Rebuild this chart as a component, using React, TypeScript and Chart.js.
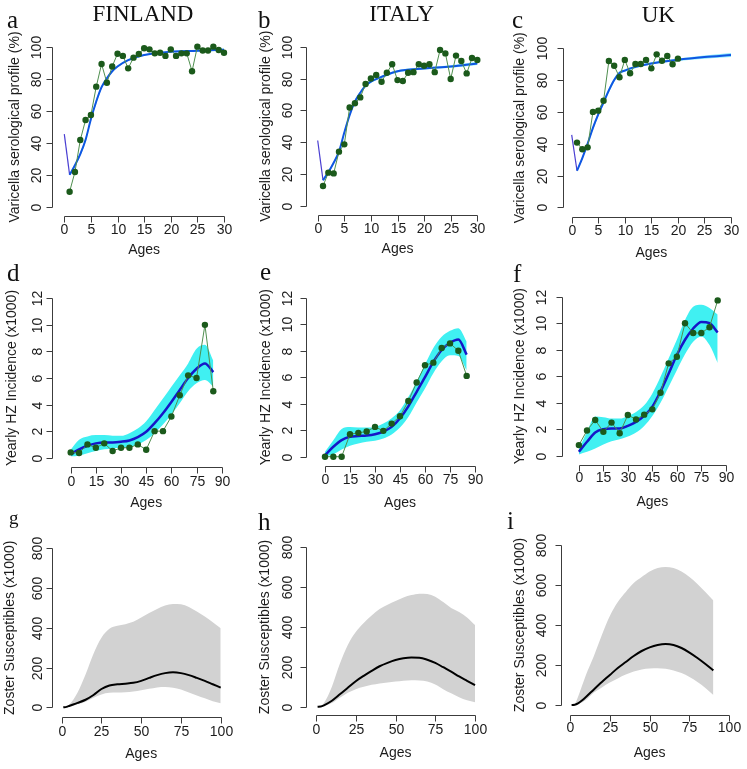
import React, { useEffect, useRef } from 'react';
import { Chart, registerables } from 'chart.js';
Chart.register(...registerables);

const W = 747;
const H = 769;
const SANS = '"Liberation Sans", Arial, Helvetica, sans-serif';
const SERIF = '"Liberation Serif", "Times New Roman", serif';

// ---------- Row 1: varicella serological profile (%) ----------
const seroAges = [1, 2, 3, 4, 5, 6, 7, 8, 9, 10, 11, 12, 13, 14, 15, 16, 17, 18, 19, 20, 21, 22, 23, 24, 25, 26, 27, 28, 29, 30];
const finSero = [9.4, 21.8, 41.8, 54.4, 57.5, 75.3, 89.5, 77.8, 88, 96, 94.6, 86.8, 93.5, 95.8, 99.4, 98.7, 96.2, 96.6, 94.6, 98.7, 94.6, 96.2, 96.2, 85, 100.4, 98, 98, 100.4, 98.3, 96.6];
const itaSero = [12.4, 20.8, 20.3, 34, 38.6, 61.8, 64.4, 68.1, 76.5, 80, 82.2, 78, 83.6, 89, 79, 78.4, 83.6, 84, 89, 88, 89, 84, 97.9, 95.8, 79.7, 94.4, 91, 83.2, 92.9, 91.6];
const ukSeroAges = [1, 2, 3, 4, 5, 6, 7, 8, 9, 10, 11, 12, 13, 14, 15, 16, 17, 18, 19, 20];
const ukSero = [40.7, 36.5, 37.7, 60, 60.8, 67, 92, 89, 81.8, 92.7, 84.3, 90.1, 90.1, 92.7, 87.4, 96.2, 92.2, 95.2, 90, 93.5];

const seroFitAges = [0, 1, 2, 3, 4, 5, 6, 7, 8, 9, 10, 12, 15, 20, 25, 30];
const finSeroFit = [45.5, 20, 26, 33, 42, 55, 66, 75, 80.5, 85, 88, 92, 95.2, 97.2, 97.8, 98.5];
const itaSeroFit = [41, 16, 21, 27, 34, 46, 57, 65.5, 71, 75.5, 78, 81, 84.5, 86.3, 87.6, 89.5];
const ukSeroFit = [45.5, 23, 31, 40, 50, 58.5, 66, 73.5, 80, 84.5, 86, 88.3, 90.5, 92.8, 94.5, 95.8];

const seroBandAges = [1, 2, 3, 4, 5, 6, 7, 8, 9, 10, 12, 15, 20, 25, 30];
const finSeroLo = [19.3, 25, 31.8, 40.5, 53.5, 64.5, 73.8, 79.5, 84.2, 87.3, 91.4, 94.7, 96.7, 97.2, 97.8];
const finSeroHi = [20.7, 27, 34.2, 43.5, 56.5, 67.5, 76.2, 81.5, 85.8, 88.7, 92.6, 95.7, 97.7, 98.4, 99.2];
const itaSeroLo = [15.3, 20, 26, 33, 44.8, 55.8, 64.4, 70, 74.6, 77.2, 80.2, 83.8, 85.6, 86.8, 88.5];
const itaSeroHi = [16.7, 22, 28, 35, 47.2, 58.2, 66.6, 72, 76.4, 78.8, 81.8, 85.2, 87, 88.4, 90.5];
const ukSeroLo = [22.2, 30, 38.8, 48.6, 57, 64.5, 72, 78.8, 83.5, 85.2, 87.5, 89.8, 92, 93.5, 94.5];
const ukSeroHi = [23.8, 32, 41.2, 51.4, 60, 67.5, 75, 81.2, 85.5, 86.8, 89.1, 91.2, 93.6, 95.5, 97];

// ---------- Row 2: yearly HZ incidence (x1000) ----------
const hzAges = [0, 5, 10, 15, 20, 25, 30, 35, 40, 45, 50, 55, 60, 65, 70, 75, 80, 85];
const finHz = [0.4, 0.35, 1.0, 0.75, 1.08, 0.5, 0.75, 0.75, 1.0, 0.6, 2.0, 2.0, 3.1, 4.7, 6.2, 6.0, 10.0, 5.0];
const finHzFit = [0.25, 0.63, 0.9, 1.08, 1.15, 1.15, 1.2, 1.3, 1.55, 1.95, 2.6, 3.35, 4.2, 5.1, 6.0, 6.7, 7.1, 6.45];
const finHzLo = [0.1, 0.15, 0.33, 0.5, 0.63, 0.7, 0.75, 0.83, 1.0, 1.33, 1.85, 2.5, 3.25, 4.1, 5.0, 5.6, 5.85, 5.35];
const finHzHi = [0.6, 1.35, 1.6, 1.7, 1.7, 1.65, 1.65, 1.85, 2.2, 2.75, 3.6, 4.45, 5.35, 6.2, 7.1, 8.2, 8.5, 7.3];
const itaHz = [0, 0, 0, 1.7, 1.8, 1.9, 2.25, 1.95, 2.5, 3.05, 4.2, 5.6, 6.9, 7.1, 8.2, 8.55, 8.0, 6.1];
const itaHzFit = [0.12, 0.75, 1.25, 1.5, 1.56, 1.6, 1.7, 1.9, 2.25, 2.9, 3.8, 4.9, 6.0, 7.15, 8.05, 8.6, 8.85, 7.7];
const itaHzLo = [0, 0.18, 0.55, 0.83, 1.0, 1.12, 1.2, 1.38, 1.68, 2.2, 3.0, 4.1, 5.15, 6.3, 7.2, 7.65, 7.6, 6.5];
const itaHzHi = [0.38, 1.25, 2.1, 2.25, 2.2, 2.2, 2.25, 2.5, 2.9, 3.5, 4.5, 5.7, 6.95, 8.2, 9.05, 9.5, 9.7, 8.7];
const ukHz = [0.8, 1.9, 2.7, 1.8, 2.5, 1.7, 3.07, 2.74, 3.1, 3.5, 4.75, 6.97, 7.47, 10.0, 9.26, 9.26, 9.7, 11.72];
const ukHzFit = [0.3, 1.05, 1.75, 2.0, 2.05, 2.05, 2.25, 2.55, 3.0, 3.7, 4.85, 6.2, 7.6, 8.75, 9.6, 10.1, 10.0, 9.3];
const ukHzLo = [0.1, 0.3, 0.55, 0.85, 1.1, 1.25, 1.45, 1.75, 2.25, 3.0, 4.0, 5.2, 6.45, 7.65, 8.6, 9.0, 8.35, 7.0];
const ukHzHi = [0.5, 1.8, 2.95, 2.9, 2.8, 2.8, 3.0, 3.3, 3.8, 4.7, 5.95, 7.35, 8.75, 10.25, 11.25, 11.4, 11.15, 10.65];

// ---------- Row 3: zoster susceptibles (x1000) ----------
const susAges = [1, 3, 5, 10, 15, 20, 25, 30, 35, 40, 45, 50, 55, 60, 65, 70, 75, 80, 85, 90, 95, 100];
const finSus = [0, 2, 8, 22, 38, 62, 92, 110, 116, 119, 123, 133, 148, 162, 172, 176, 172, 162, 148, 133, 116, 99];
const finSusLo = [0, 0, 3, 15, 28, 48, 65, 73, 75, 76, 80, 86, 93, 100, 102, 98, 90, 75, 60, 45, 30, 20];
const finSusHi = [0, 2, 15, 75, 165, 270, 350, 395, 410, 418, 430, 452, 475, 495, 512, 520, 518, 505, 482, 457, 428, 398];
const itaSus = [0, 1, 7, 30, 62, 95, 128, 155, 180, 203, 220, 234, 243, 247, 246, 236, 220, 198, 176, 152, 130, 108];
const itaSusLo = [0, 0, 3, 18, 45, 70, 88, 100, 110, 117, 122, 126, 130, 133, 131, 126, 112, 88, 67, 48, 32, 22];
const itaSusHi = [0, 3, 18, 100, 215, 310, 375, 420, 458, 490, 512, 530, 548, 560, 567, 565, 552, 525, 495, 475, 448, 410];
const ukSusAges = [1, 3, 5, 10, 15, 20, 25, 30, 35, 40, 45, 50, 55, 60, 65, 70, 75, 80, 85, 90];
const ukSus = [0, 1, 8, 40, 78, 115, 150, 185, 215, 245, 270, 288, 300, 305, 300, 285, 262, 235, 205, 173];
const ukSusLo = [0, 0, 4, 25, 62, 88, 112, 133, 152, 167, 178, 183, 184, 181, 173, 160, 140, 115, 85, 50];
const ukSusHi = [0, 5, 40, 150, 245, 350, 445, 515, 565, 610, 640, 668, 685, 690, 685, 667, 640, 605, 565, 522];

// ---------- tick labels ----------
const seroXTicks = [0, 5, 10, 15, 20, 25, 30];
const seroYTicks = [0, 20, 40, 60, 80, 100];
const hzXTicks = [0, 15, 30, 45, 60, 75, 90];
const hzYTicks = [0, 2, 4, 6, 8, 10, 12];
const susXTicks = [0, 25, 50, 75, 100];
const susYTicks = [0, 200, 400, 600, 800];

const countries = ['FINLAND', 'ITALY', 'UK'];
const letters = ['a', 'b', 'c', 'd', 'e', 'f', 'g', 'h', 'i'];
const seroTitle = 'Varicella serological profile (%)';
const hzTitle = 'Yearly HZ Incidence (x1000)';
const susTitle = 'Zoster Susceptibles (x1000)';
const xTitle = 'Ages';

// ---------- styles ----------
const OBS_LINE = '#4f8f4f';
const OBS_PT = '#1b5a1b';
const SERO_LINE = '#0f56e2';
const SERO_SEG = '#4a3fd2';
const SERO_BAND = 'rgba(40,215,250,0.55)';
const HZ_LINE = '#1616c8';
const HZ_BAND = '#40f0f2';
const SUS_BAND = '#d2d2d2';

const pts = (xs: number[], ys: number[]) => ys.map((y, i) => ({ x: xs[i], y }));

function obsSet(xs: number[], ys: number[]) {
  return {
    data: pts(xs, ys), showLine: true, borderColor: OBS_LINE, borderWidth: 1,
    pointRadius: 3.2, pointBackgroundColor: OBS_PT, pointBorderColor: OBS_PT, pointBorderWidth: 0,
  };
}
function lineSet(xs: number[], ys: number[], color: string, width: number) {
  return {
    data: pts(xs, ys), showLine: true, borderColor: color, borderWidth: width,
    pointRadius: 0, cubicInterpolationMode: 'monotone', fill: false,
  };
}
function bandSets(xs: number[], lo: number[], hi: number[], color: string) {
  return [
    { data: pts(xs, hi), showLine: true, borderWidth: 0, borderColor: 'rgba(0,0,0,0)', pointRadius: 0,
      cubicInterpolationMode: 'monotone', backgroundColor: color, fill: '+1' },
    { data: pts(xs, lo), showLine: true, borderWidth: 0, borderColor: 'rgba(0,0,0,0)', pointRadius: 0,
      cubicInterpolationMode: 'monotone', fill: false },
  ];
}
function seroSets(obsX: number[], obs: number[], fit: number[], lo: number[], hi: number[]) {
  return [
    obsSet(obsX, obs),
    lineSet(seroFitAges.slice(1), fit.slice(1), SERO_LINE, 2),
    lineSet(seroFitAges.slice(0, 2), fit.slice(0, 2), SERO_SEG, 1.2),
    ...bandSets(seroBandAges, lo, hi, SERO_BAND),
  ];
}
function hzSets(obs: number[], fit: number[], lo: number[], hi: number[]) {
  return [obsSet(hzAges, obs), lineSet(hzAges, fit, HZ_LINE, 2.5), ...bandSets(hzAges, lo, hi, HZ_BAND)];
}
function susSets(xs: number[], mid: number[], lo: number[], hi: number[]) {
  return [lineSet(xs, mid, '#000000', 2), ...bandSets(xs, lo, hi, SUS_BAND)];
}

type Spec = {
  axisX: number; axisY: number;
  xm: [number, number, number, number]; ym: [number, number, number, number];
  xTicks: number[]; yTicks: number[]; yTitle: string;
  yTickOff: number; yTitleOff: number; xTickOff: number; xTitleOff: number;
  letter: string; letterX: number; letterY: number; letterSize: number;
  title?: string; titleX?: number; titleY?: number;
  datasets: any[];
};

const specs: Spec[] = [
  { axisX: 52.3, axisY: 216, xm: [0, 64.3, 30, 224], ym: [0, 206.7, 100, 47.3], xTicks: seroXTicks, yTicks: seroYTicks, yTitle: seroTitle,
    yTickOff: 15, yTitleOff: 37, xTickOff: 14, xTitleOff: 34, letter: letters[0], letterX: 7, letterY: 28, letterSize: 25,
    title: countries[0], titleX: 143, titleY: 21, datasets: seroSets(seroAges, finSero, finSeroFit, finSeroLo, finSeroHi) },
  { axisX: 306, axisY: 215, xm: [0, 317.7, 30, 477.3], ym: [0, 205.7, 100, 46.7], xTicks: seroXTicks, yTicks: seroYTicks, yTitle: seroTitle,
    yTickOff: 18, yTitleOff: 40, xTickOff: 14, xTitleOff: 34, letter: letters[1], letterX: 258, letterY: 28, letterSize: 25,
    title: countries[1], titleX: 401.7, titleY: 21, datasets: seroSets(seroAges, itaSero, itaSeroFit, itaSeroLo, itaSeroHi) },
  { axisX: 563.3, axisY: 216.7, xm: [0, 571.7, 30, 731], ym: [0, 207.3, 100, 48.3], xTicks: seroXTicks, yTicks: seroYTicks, yTitle: seroTitle,
    yTickOff: 20, yTitleOff: 43, xTickOff: 14, xTitleOff: 36, letter: letters[2], letterX: 512, letterY: 28, letterSize: 25,
    title: countries[2], titleX: 658.3, titleY: 21.7, datasets: seroSets(ukSeroAges, ukSero, ukSeroFit, ukSeroLo, ukSeroHi) },
  { axisX: 51.7, axisY: 466.7, xm: [0, 70.7, 90, 221.7], ym: [0, 457.7, 12, 298.3], xTicks: hzXTicks, yTicks: hzYTicks, yTitle: hzTitle,
    yTickOff: 14, yTitleOff: 40, xTickOff: 15.6, xTitleOff: 36, letter: letters[3], letterX: 7, letterY: 281, letterSize: 25,
    datasets: hzSets(finHz, finHzFit, finHzLo, finHzHi) },
  { axisX: 306, axisY: 465.7, xm: [0, 325, 90, 475], ym: [0, 456.7, 12, 297.7], xTicks: hzXTicks, yTicks: hzYTicks, yTitle: hzTitle,
    yTickOff: 18.3, yTitleOff: 40, xTickOff: 14.3, xTitleOff: 37.6, letter: letters[4], letterX: 260, letterY: 280, letterSize: 25,
    datasets: hzSets(itaHz, itaHzFit, itaHzLo, itaHzHi) },
  { axisX: 561.7, axisY: 465, xm: [0, 579.3, 90, 730], ym: [0, 455.7, 12, 296.7], xTicks: hzXTicks, yTicks: hzYTicks, yTitle: hzTitle,
    yTickOff: 20, yTitleOff: 41.7, xTickOff: 12.7, xTitleOff: 36.7, letter: letters[5], letterX: 513, letterY: 282, letterSize: 25,
    datasets: hzSets(ukHz, ukHzFit, ukHzLo, ukHzHi) },
  { axisX: 51.7, axisY: 717.3, xm: [0, 61.7, 100, 220.7], ym: [0, 707.3, 800, 548.3], xTicks: susXTicks, yTicks: susYTicks, yTitle: susTitle,
    yTickOff: 14, yTitleOff: 41.7, xTickOff: 14.4, xTitleOff: 36.7, letter: letters[6], letterX: 9, letterY: 524, letterSize: 19,
    datasets: susSets(susAges, finSus, finSusLo, finSusHi) },
  { axisX: 306, axisY: 715, xm: [0, 316, 100, 475], ym: [0, 706.7, 800, 547.3], xTicks: susXTicks, yTicks: susYTicks, yTitle: susTitle,
    yTickOff: 18.3, yTitleOff: 41, xTickOff: 15, xTitleOff: 37.7, letter: letters[7], letterX: 258, letterY: 530, letterSize: 25,
    datasets: susSets(susAges, itaSus, itaSusLo, itaSusHi) },
  { axisX: 561, axisY: 715, xm: [0, 570, 100, 729.3], ym: [0, 705, 800, 545], xTicks: susXTicks, yTicks: susYTicks, yTitle: susTitle,
    yTickOff: 19.3, yTitleOff: 41, xTickOff: 13.3, xTitleOff: 37.7, letter: letters[8], letterX: 507, letterY: 529, letterSize: 25,
    datasets: susSets(ukSusAges, ukSus, ukSusLo, ukSusHi) },
];

const rAxesPlugin = {
  id: 'rAxes',
  afterDraw(chart: any, _args: any, o: any) {
    const ctx = chart.ctx;
    const xs = chart.scales.x;
    const ys = chart.scales.y;
    const { left, right, top, bottom } = chart.chartArea;
    const xp = o.xTicks.map((v: number) => Math.round(xs.getPixelForValue(v)) + 0.5);
    const yp = o.yTicks.map((v: number) => Math.round(ys.getPixelForValue(v)) + 0.5);
    const ax = Math.round(left) + 0.5;
    const ay = Math.round(bottom) + 0.5;
    const tl = 6;
    ctx.save();
    ctx.strokeStyle = '#3c3c3c';
    ctx.lineWidth = 1;
    ctx.beginPath();
    ctx.moveTo(xp[0], ay); ctx.lineTo(xp[xp.length - 1], ay);
    xp.forEach((p: number) => { ctx.moveTo(p, ay); ctx.lineTo(p, ay + tl); });
    ctx.moveTo(ax, yp[0]); ctx.lineTo(ax, yp[yp.length - 1]);
    yp.forEach((p: number) => { ctx.moveTo(ax, p); ctx.lineTo(ax - tl, p); });
    ctx.stroke();

    ctx.fillStyle = '#1c1c1c';
    ctx.font = `14px ${SANS}`;
    ctx.textAlign = 'center';
    ctx.textBaseline = 'middle';
    o.xTicks.forEach((v: number, i: number) => ctx.fillText(String(v), xp[i], bottom + o.xTickOff));
    ctx.fillText(o.xTitle, (left + right) / 2, bottom + o.xTitleOff);
    o.yTicks.forEach((v: number, i: number) => {
      ctx.save(); ctx.translate(left - o.yTickOff, yp[i]); ctx.rotate(-Math.PI / 2);
      ctx.fillText(String(v), 0, 0); ctx.restore();
    });
    ctx.save(); ctx.translate(left - o.yTitleOff, (top + bottom) / 2); ctx.rotate(-Math.PI / 2);
    ctx.fillText(o.yTitle, 0, 0); ctx.restore();

    ctx.textAlign = 'left';
    ctx.textBaseline = 'alphabetic';
    ctx.fillStyle = '#111';
    ctx.font = `${o.letterSize}px ${SERIF}`;
    ctx.fillText(o.letter, o.letterX, o.letterY);
    if (o.title) {
      ctx.textAlign = 'center';
      ctx.font = `23px ${SERIF}`;
      ctx.fillText(o.title, o.titleX, o.titleY);
    }
    ctx.restore();
  },
};

function makeConfig(s: Spec): any {
  const [xv0, xp0, xv1, xp1] = s.xm;
  const kx = (xp1 - xp0) / (xv1 - xv0);
  const gapX = xp0 - s.axisX;
  const xmin = xv0 - gapX / kx;
  const xmax = xv1 + gapX / kx;
  const rightPx = xp1 + gapX;
  const [yv0, yp0, yv1, yp1] = s.ym;
  const ky = (yp0 - yp1) / (yv1 - yv0);
  const gapY = s.axisY - yp0;
  const ymin = yv0 - gapY / ky;
  const ymax = yv1 + gapY / ky;
  const topPx = yp1 - gapY;
  return {
    type: 'scatter',
    data: { datasets: s.datasets },
    options: {
      responsive: false,
      animation: false,
      events: [],
      layout: { padding: { left: s.axisX, top: topPx, right: W - rightPx, bottom: H - s.axisY } },
      scales: {
        x: { type: 'linear', min: xmin, max: xmax, display: false },
        y: { type: 'linear', min: ymin, max: ymax, display: false },
      },
      plugins: {
        legend: { display: false },
        tooltip: { enabled: false },
        rAxes: {
          xTicks: s.xTicks, yTicks: s.yTicks, xTitle, yTitle: s.yTitle,
          yTickOff: s.yTickOff, yTitleOff: s.yTitleOff, xTickOff: s.xTickOff, xTitleOff: s.xTitleOff,
          letter: s.letter, letterX: s.letterX, letterY: s.letterY, letterSize: s.letterSize,
          title: s.title, titleX: s.titleX, titleY: s.titleY,
        },
      },
    },
    plugins: [rAxesPlugin],
  };
}

function Panel({ spec }: { spec: Spec }) {
  const ref = useRef<HTMLCanvasElement>(null);
  useEffect(() => {
    const chart = new Chart(ref.current as HTMLCanvasElement, makeConfig(spec));
    return () => chart.destroy();
  }, [spec]);
  return (
    <canvas ref={ref} width={W} height={H}
      style={{ position: 'absolute', left: 0, top: 0, width: W, height: H }} />
  );
}

export default function App() {
  return (
    <div style={{ position: 'fixed', left: 0, top: 0, width: W, height: H, background: '#ffffff', overflow: 'hidden' }}>
      {specs.map((s, i) => <Panel key={i} spec={s} />)}
    </div>
  );
}
